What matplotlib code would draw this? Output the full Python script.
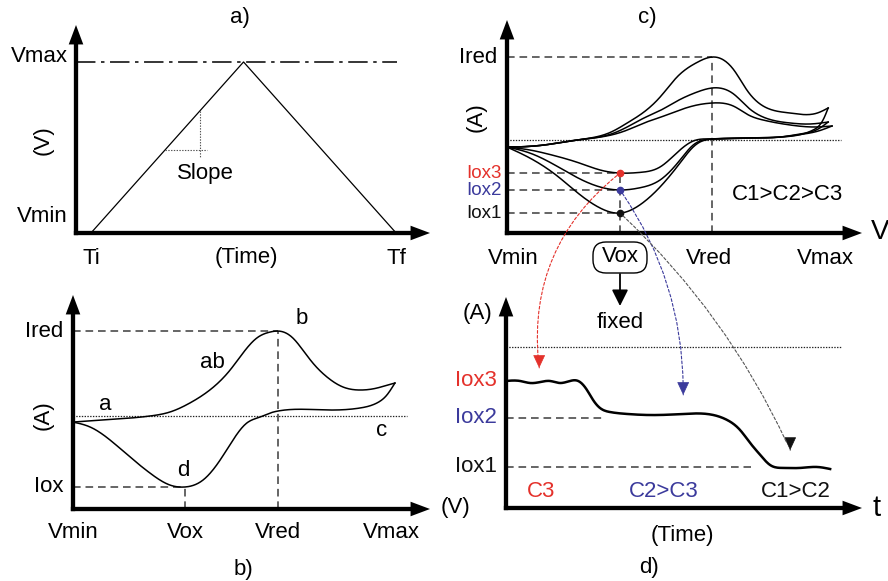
import numpy as np
import matplotlib
matplotlib.use("Agg")
import matplotlib.pyplot as plt
from matplotlib.patches import ConnectionPatch, FancyArrowPatch, FancyBboxPatch
from matplotlib.transforms import IdentityTransform

plt.rcParams["font.family"] = ["Liberation Sans", "DejaVu Sans"]
plt.rcParams["lines.scale_dashes"] = False

# ---------------- data ----------------
# a) triangular potential sweep (time normalised Ti=0 .. Tf=1, Vmin=0 .. Vmax=1)
a_time = [0.0, 0.5, 1.0]
a_volt = [0.0, 1.0, 0.0]
a_time_labels = ["Ti", "(Time)", "Tf"]
a_time_ticks = [0.0, 0.51, 1.0]

# b) single voltammogram (potential normalised 0..1, current normalised to Ired)
b_fwd_V = [0, 0.093, 0.239, 0.301, 0.363, 0.425, 0.488, 0.528, 0.571, 0.612, 0.637,
           0.683, 0.714, 0.745, 0.789, 0.839, 0.891, 0.944, 0.978, 1.0]
b_fwd_I = [-0.071, -0.047, 0.0, 0.047, 0.153, 0.306, 0.541, 0.741, 0.918, 0.988, 1.0,
           0.918, 0.776, 0.624, 0.459, 0.341, 0.306, 0.329, 0.365, 0.388]
b_rev_V = [1.0, 0.975, 0.944, 0.891, 0.789, 0.637, 0.612, 0.581, 0.540, 0.497, 0.457,
           0.404, 0.348, 0.301, 0.239, 0.177, 0.115, 0.053, 0]
b_rev_I = [0.388, 0.247, 0.153, 0.094, 0.071, 0.059, 0.035, -0.012, -0.082, -0.282, -0.518,
           -0.753, -0.835, -0.812, -0.671, -0.482, -0.282, -0.129, -0.071]
b_Vox, b_Vred = 0.348, 0.637
b_Ired, b_Iox = 1.0, -0.835
b_V_ticks = [0.0, 0.348, 0.637, 0.99]
b_V_labels = ["Vmin", "Vox", "Vred", "Vmax"]

# c) voltammograms for three concentrations C1 > C2 > C3
c_fwd_V = [
    [0, 0.012, 0.115, 0.217, 0.323, 0.373, 0.425, 0.478, 0.528, 0.590, 0.637, 0.705, 0.745, 0.795, 0.879, 0.963, 0.997],
    [0, 0.012, 0.115, 0.217, 0.323, 0.373, 0.425, 0.478, 0.528, 0.590, 0.637, 0.705, 0.750, 0.795, 0.879, 0.940, 0.997],
    [0, 0.012, 0.115, 0.217, 0.323, 0.373, 0.425, 0.478, 0.528, 0.590, 0.637, 0.705, 0.750, 0.795, 0.879, 0.956, 1.009],
]
c_fwd_I = [
    [-0.084, -0.084, -0.060, 0.0, 0.096, 0.205, 0.337, 0.530, 0.760, 0.935, 1.0, 0.840, 0.600, 0.410, 0.325, 0.325, 0.386],
    [-0.084, -0.084, -0.060, 0.0, 0.072, 0.157, 0.265, 0.361, 0.470, 0.578, 0.627, 0.550, 0.386, 0.277, 0.205, 0.193, 0.217],
    [-0.084, -0.084, -0.060, 0.0, 0.060, 0.120, 0.205, 0.277, 0.350, 0.422, 0.446, 0.405, 0.301, 0.241, 0.181, 0.157, 0.169],
]
c_rev_V = [
    [0.997, 0.981, 0.950, 0.848, 0.745, 0.637, 0.599, 0.578, 0.537, 0.475, 0.413, 0.351, 0.289, 0.227, 0.155, 0.071, 0],
    [0.997, 0.966, 0.910, 0.848, 0.745, 0.637, 0.578, 0.537, 0.475, 0.413, 0.351, 0.289, 0.227, 0.155, 0.071, 0],
    [1.009, 0.966, 0.910, 0.848, 0.745, 0.637, 0.578, 0.537, 0.475, 0.413, 0.351, 0.289, 0.227, 0.134, 0.071, 0],
]
c_rev_I = [
    [0.386, 0.241, 0.120, 0.036, 0.024, 0.012, -0.024, -0.084, -0.277, -0.566, -0.780, -0.880, -0.819, -0.660, -0.430, -0.217, -0.084],
    [0.217, 0.133, 0.072, 0.036, 0.024, 0.012, -0.060, -0.241, -0.482, -0.575, -0.602, -0.566, -0.470, -0.315, -0.157, -0.084],
    [0.169, 0.108, 0.066, 0.036, 0.024, 0.012, -0.012, -0.120, -0.325, -0.390, -0.398, -0.361, -0.280, -0.175, -0.120, -0.084],
]
c_Vox, c_Vred, c_Ired = 0.351, 0.637, 1.0
c_Iox = [-0.398, -0.602, -0.880]            # Iox3, Iox2, Iox1
c_Iox_labels = ["Iox3", "Iox2", "Iox1"]
c_V_ticks = [0.02, 0.627, 0.988]
c_V_labels = ["Vmin", "Vred", "Vmax"]

# d) chronoamperometry at fixed Vox
d_t = [0, 0.043, 0.074, 0.105, 0.135, 0.166, 0.197, 0.222, 0.249, 0.268, 0.289, 0.320,
       0.372, 0.443, 0.545, 0.618, 0.680, 0.720, 0.751, 0.782, 0.812, 0.852, 0.905, 0.957, 0.997]
d_I = [-0.283, -0.283, -0.300, -0.292, -0.283, -0.300, -0.283, -0.283, -0.358, -0.442, -0.508, -0.542,
       -0.558, -0.567, -0.558, -0.558, -0.608, -0.692, -0.800, -0.900, -0.983, -1.008, -1.008, -1.0, -1.017]
d_levels = [-0.275, -0.588, -1.0]           # Iox3, Iox2, Iox1
d_level_ends = [None, 0.295, 0.754]
d_region_t = [0.108, 0.486, 0.892]
d_region_labels = ["C3", "C2>C3", "C1>C2"]
d_arrow_ends = [(0.102, -0.175), (0.545, -0.40), (0.874, -0.86)]

RED, BLUE, BLACK = "#e4312b", "#3b3a9c", "#111111"
level_colors = [RED, BLUE, BLACK]
arrow_colors = [RED, BLUE, "#555555"]
head_colors = [RED, BLUE, BLACK]

# ---------------- helpers ----------------
W, H = 888, 581
FS = 16
fig = plt.figure(figsize=(W / 100, H / 100), dpi=100)
PIX = IdentityTransform()

DASH = dict(color="#3c3c3c", lw=1.1, linestyle=(0, (5.5, 3.5)))
DOT = dict(color="#222222", lw=0.9, linestyle=(0, (1.0, 1.0)))
CURVE = dict(color="black", lw=1.1)


def panel(left, top, right, bottom, xlim, ylim):
    ax = fig.add_axes([left / W, 1 - bottom / H, (right - left) / W, (bottom - top) / H])
    ax.set_xlim(*xlim)
    ax.set_ylim(*ylim)
    ax.set_axis_off()
    axes_arrows(ax, right - left, bottom - top)
    return ax


def axes_arrows(ax, wpx, hpx, lw_pt=3.1, hw=10.5, hl=14):
    half = lw_pt / 72 * 100 / 2
    props = dict(width=lw_pt, headwidth=hw, headlength=hl, facecolor="black",
                 edgecolor="none", shrink=0)
    ax.annotate("", xy=(0, 1), xycoords="axes fraction", xytext=(0, -half / hpx),
                textcoords="axes fraction", arrowprops=props)
    ax.annotate("", xy=(1, 0), xycoords="axes fraction", xytext=(-half / wpx, 0),
                textcoords="axes fraction", arrowprops=props)


def spline(xs, ys, n=400):
    """Natural cubic spline through the given points (x strictly monotonic)."""
    x = np.asarray(xs, float)
    y = np.asarray(ys, float)
    o = np.argsort(x)
    x, y = x[o], y[o]
    m = len(x)
    h = np.diff(x)
    A = np.zeros((m, m))
    r = np.zeros(m)
    A[0, 0] = A[-1, -1] = 1.0
    for i in range(1, m - 1):
        A[i, i - 1] = h[i - 1]
        A[i, i] = 2 * (h[i - 1] + h[i])
        A[i, i + 1] = h[i]
        r[i] = 3 * ((y[i + 1] - y[i]) / h[i] - (y[i] - y[i - 1]) / h[i - 1])
    c = np.linalg.solve(A, r)
    b = (y[1:] - y[:-1]) / h - h * (2 * c[:-1] + c[1:]) / 3
    d = (c[1:] - c[:-1]) / (3 * h)
    xx = np.linspace(x[0], x[-1], n)
    k = np.clip(np.searchsorted(x, xx) - 1, 0, m - 2)
    dx = xx - x[k]
    return xx, y[k] + b[k] * dx + c[k] * dx ** 2 + d[k] * dx ** 3


def ptext(x, y, s, **kw):
    kw.setdefault("fontsize", FS)
    kw.setdefault("ha", "center")
    kw.setdefault("va", "center")
    fig.text(x / W, 1 - y / H, s, **kw)


def xlabel_at(ax, x, s, dy, **kw):
    kw.setdefault("fontsize", FS)
    ax.annotate(s, xy=(x, 0), xycoords=("data", "axes fraction"), xytext=(0, -dy),
                textcoords="offset pixels", ha="center", va="center",
                annotation_clip=False, **kw)


def ylabel_at(ax, y, s, dx, dy=0, **kw):
    kw.setdefault("fontsize", FS)
    ax.annotate(s, xy=(0, y), xycoords=("axes fraction", "data"), xytext=(-dx, dy),
                textcoords="offset pixels", ha="right", va="center",
                annotation_clip=False, **kw)


# ---------------- a) ----------------
ax_a = panel(76, 25, 430, 233, (-0.049, 1.111), (0, 1.216))
ax_a.plot(a_time, a_volt, color="black", lw=0.9)
ax_a.plot([-0.049, 1.003], [max(a_volt)] * 2, color="black", lw=1.1,
          linestyle=(0, (14, 4, 2.5, 4)))
slope_V, slope_t = 0.485, 0.357
ax_a.plot([slope_V / 2, 0.38], [slope_V, slope_V], color="#555555", lw=0.8, linestyle=(0, (1, 1)))
ax_a.plot([slope_t, slope_t], [2 * slope_t, 0.444], color="#555555", lw=0.8, linestyle=(0, (1, 1)))
ylabel_at(ax_a, 1.0, "Vmax", 8, 5)
ylabel_at(ax_a, 0.0, "Vmin", 8, 16)
for t, s in zip(a_time_ticks, a_time_labels):
    xlabel_at(ax_a, t, s, 25)
ptext(205, 173, "Slope")
ptext(43, 140, "(V)", rotation=90)
ptext(240, 17, "a)")

# ---------------- b) ----------------
ax_b = panel(73, 295, 430, 509, (0, 1.109), (-1.094, 1.424))
ax_b.plot([0, 1.037], [0, 0], **DOT)
ax_b.plot([0, b_Vred], [b_Ired, b_Ired], **DASH)
ax_b.plot([b_Vred, b_Vred], [-1.094, b_Ired], **DASH)
ax_b.plot([0, b_Vox], [b_Iox, b_Iox], **DASH)
ax_b.plot([b_Vox, b_Vox], [-1.094, b_Iox], **DASH)
ax_b.plot(*spline(b_fwd_V, b_fwd_I), **CURVE)
ax_b.plot(*spline(b_rev_V, b_rev_I), **CURVE)
ylabel_at(ax_b, b_Ired, "Ired", 10)
ylabel_at(ax_b, b_Iox, "Iox", 10)
for v, s in zip(b_V_ticks, b_V_labels):
    xlabel_at(ax_b, v, s, 23)
ptext(43, 415, "(A)", rotation=90)
ptext(455, 508, "(V)")
ptext(105, 404, "a")
ptext(212, 362, "ab")
ptext(302, 319, "b")
ptext(382, 430, "c")
ptext(183, 471, "d")
ptext(243, 570, "b)")

# ---------------- c) ----------------
ax_c = panel(507, 20, 862, 233, (0, 1.102), (-1.120, 1.446))
ax_c.plot([0, 1.037], [0, 0], **DOT)
ax_c.plot([0, c_Vred], [c_Ired, c_Ired], **DASH)
ax_c.plot([c_Vred, c_Vred], [-1.120, c_Ired], **DASH)
ax_c.plot([c_Vox, c_Vox], [-1.120, max(c_Iox)], **DASH)
for lev in c_Iox:
    ax_c.plot([0, c_Vox], [lev, lev], **DASH)
for fv, fi, rv, ri in zip(c_fwd_V, c_fwd_I, c_rev_V, c_rev_I):
    ax_c.plot(*spline(fv, fi), **CURVE)
    ax_c.plot(*spline(rv, ri), **CURVE)
for lev, col, lab in zip(c_Iox, level_colors, c_Iox_labels):
    ax_c.plot(c_Vox, lev, "o", color=col, ms=4.5, zorder=5)
    ylabel_at(ax_c, lev, lab, 5, color=col, fontsize=13.5)
ylabel_at(ax_c, c_Ired, "Ired", 10)
for v, s in zip(c_V_ticks, c_V_labels):
    xlabel_at(ax_c, v, s, 25)

# fixed oxidation potential: rounded label, arrow down to "fixed"
fig.add_artist(FancyBboxPatch((593, H - 273), 54, 31, transform=PIX,
                              boxstyle="round,pad=0,rounding_size=13",
                              fc="white", ec="black", lw=1.0, zorder=3))
ptext(620, 257, "Vox", zorder=4)
fig.add_artist(FancyArrowPatch((620, H - 274), (620, H - 306), transform=PIX,
                               arrowstyle="-|>,head_length=0.7,head_width=0.35",
                               mutation_scale=14, color="black", lw=1.3,
                               shrinkA=0, shrinkB=0))
ptext(620, 322, "fixed")
ptext(476, 117, "(A)", rotation=90)
ptext(880, 232, "V", fontsize=20)
ptext(787, 195, "C1>C2>C3")
ptext(647, 17, "c)")

# ---------------- d) ----------------
ax_d = panel(506, 297, 862, 508, (0, 1.095), (-1.342, 0.417))
ax_d.plot([0, 1.031], [0, 0], **DOT)
for lev, end in zip(d_levels, d_level_ends):
    if end is not None:
        ax_d.plot([0, end], [lev, lev], **DASH)
ax_d.plot(*spline(d_t, d_I), color="black", lw=1.8)
for lev, col, lab in zip(d_levels, level_colors, c_Iox_labels):
    ylabel_at(ax_d, lev, lab, 9, color=col)
for t, s, col in zip(d_region_t, d_region_labels, level_colors):
    ax_d.text(t, -1.208, s, color=col, fontsize=FS, ha="center", va="center")
ptext(477, 313, "(A)")
ptext(877, 508, "t", fontsize=21)
ptext(682, 535, "(Time)")
ptext(649, 567, "d)")

# dashed links from each oxidation peak to its current level in d)
rads = [0.28, -0.16, -0.10]
for lev, end, col, hcol, rad in zip(c_Iox, d_arrow_ends, arrow_colors, head_colors, rads):
    con = ConnectionPatch(xyA=(c_Vox, lev), coordsA="data", axesA=ax_c,
                          xyB=end, coordsB="data", axesB=ax_d,
                          arrowstyle="-", connectionstyle=f"arc3,rad={rad}",
                          color=col, lw=0.8, linestyle=(0, (2.0, 1.5)),
                          shrinkA=3, shrinkB=6)
    fig.add_artist(con)
    ax_d.annotate("", xy=end, xytext=(end[0], end[1] + 0.001), annotation_clip=False,
                  arrowprops=dict(arrowstyle="-|>,head_length=0.6,head_width=0.28",
                                  mutation_scale=14, color=hcol, lw=0.5,
                                  shrinkA=0, shrinkB=0))

fig.savefig("out.png", dpi=100)
